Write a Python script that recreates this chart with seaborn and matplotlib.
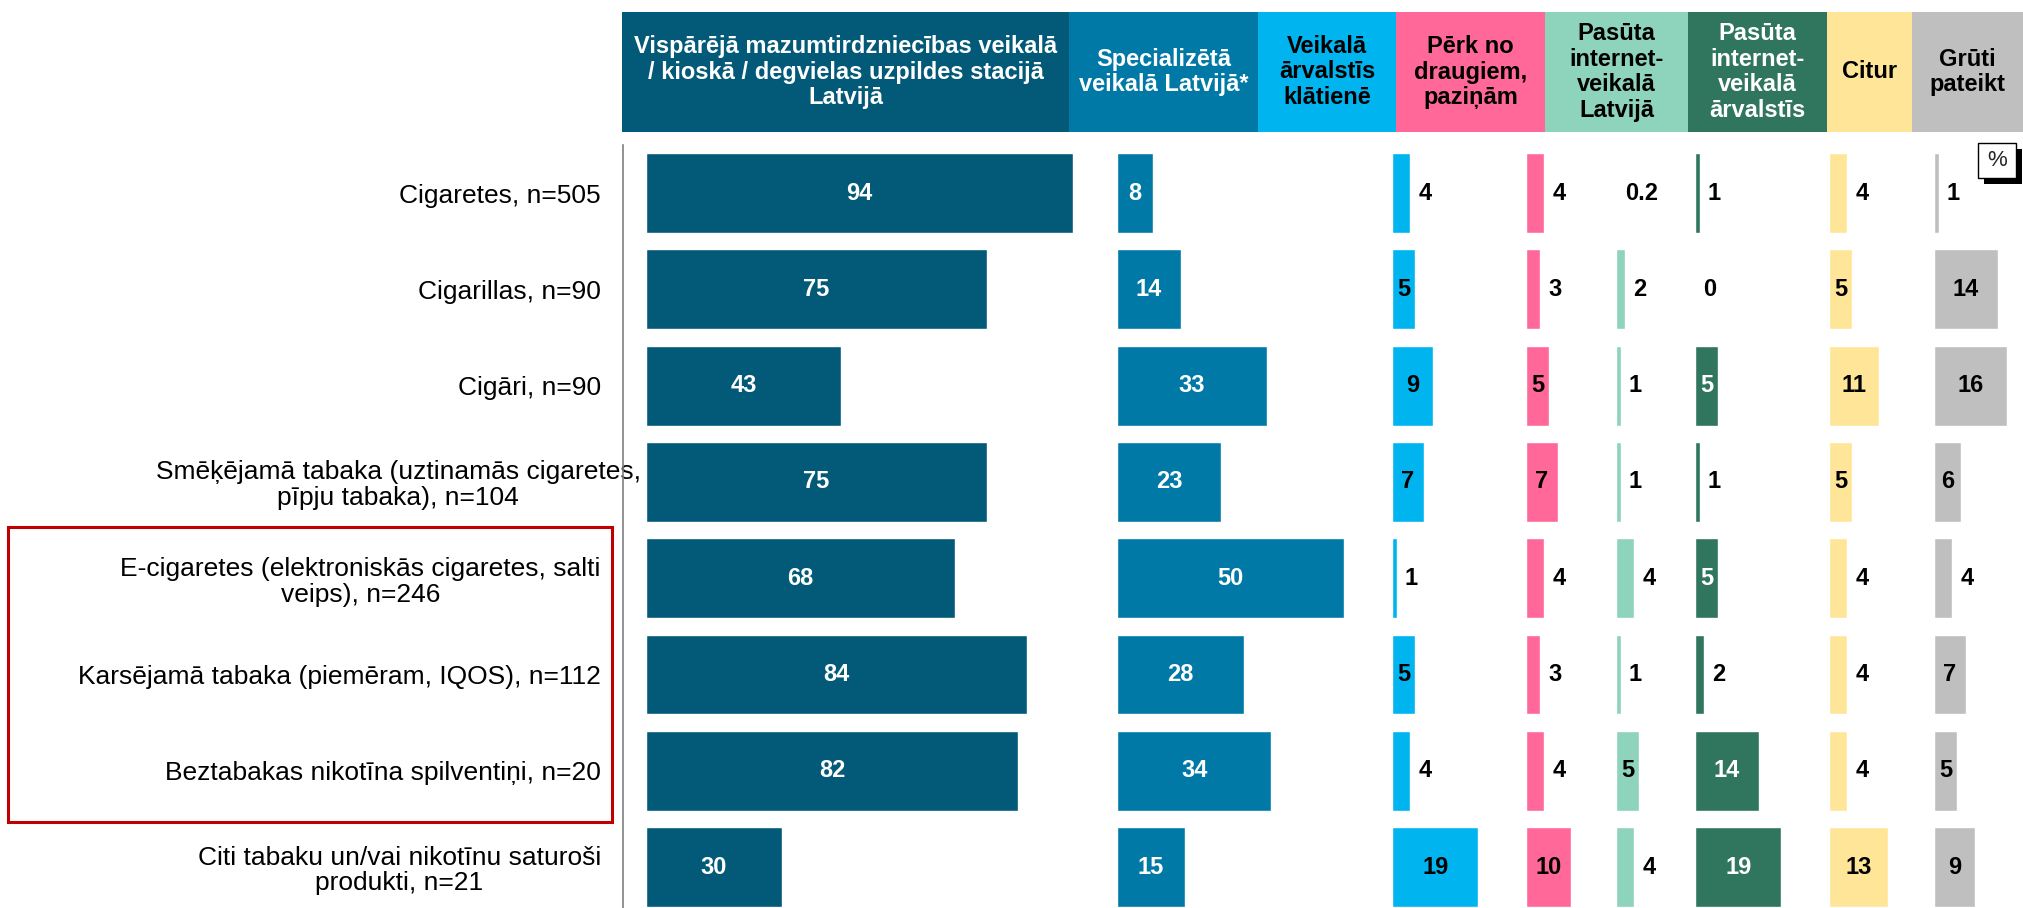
import matplotlib
matplotlib.use("Agg")
import matplotlib.pyplot as plt
from matplotlib.patches import Rectangle
from matplotlib.transforms import ScaledTranslation
import seaborn as sns

# Dati
categories = [
    "Cigaretes, n=505",
    "Cigarillas, n=90",
    "Cigāri, n=90",
    "Smēķējamā tabaka (uztinamās cigaretes,\npīpju tabaka), n=104",
    "E-cigaretes (elektroniskās cigaretes, salti\nveips), n=246",
    "Karsējamā tabaka (piemēram, IQOS), n=112",
    "Beztabakas nikotīna spilventiņi, n=20",
    "Citi tabaku un/vai nikotīnu saturoši\nprodukti, n=21",
]
headers = [
    "Vispārējā mazumtirdzniecības veikalā\n/ kioskā / degvielas uzpildes stacijā\nLatvijā",
    "Specializētā\nveikalā Latvijā*",
    "Veikalā\nārvalstīs\nklātienē",
    "Pērk no\ndraugiem,\npaziņām",
    "Pasūta\ninternet-\nveikalā\nLatvijā",
    "Pasūta\ninternet-\nveikalā\nārvalstīs",
    "Citur",
    "Grūti\npateikt",
]
general_store = [94, 75, 43, 75, 68, 84, 82, 30]
special_store = [8, 14, 33, 23, 50, 28, 34, 15]
store_abroad = [4, 5, 9, 7, 1, 5, 4, 19]
from_friends = [4, 3, 5, 7, 4, 3, 4, 10]
online_lv = [0.2, 2, 1, 1, 4, 1, 5, 4]
online_abroad = [1, 0, 5, 1, 5, 2, 14, 19]
elsewhere = [4, 5, 11, 5, 4, 4, 4, 13]
hard_to_say = [1, 14, 16, 6, 4, 7, 5, 9]

series = [general_store, special_store, store_abroad, from_friends,
          online_lv, online_abroad, elsewhere, hard_to_say]
colors = ["#035A78", "#0079A6", "#00B5EF", "#FF6899",
          "#8ED3BB", "#30765F", "#FFE597", "#BFBFBF"]
header_text_colors = ["white", "white", "black", "black",
                      "black", "white", "black", "black"]
inside_text_colors = ["white", "white", "black", "black",
                      "black", "white", "black", "black"]

# izkārtojums pikseļos
W, H = 2023, 908
PPU = 4.54                      # px uz 1 procentpunktu
bar_starts = [646, 1117, 1392, 1526, 1616, 1695, 1829, 1934]
header_edges = [622, 1069, 1258, 1396, 1545, 1688, 1827, 1912, 2023]
header_top, header_bot = 12, 132
ax_top = 145

sns.set_style("white")
plt.rcParams["font.family"] = ["Liberation Sans", "DejaVu Sans"]

fig = plt.figure(figsize=(W / 100, H / 100), dpi=100)

for i, (vals, col) in enumerate(zip(series, colors)):
    left = 623 if i == 0 else bar_starts[i]
    right = bar_starts[i + 1] if i + 1 < len(bar_starts) else W
    ax = fig.add_axes([left / W, 0, (right - left) / W, (H - ax_top) / H])
    sns.barplot(x=vals, y=categories, orient="h", color=col, saturation=1,
                width=0.83, ax=ax)
    ax.set_xlim((left - bar_starts[i]) / PPU, (right - bar_starts[i]) / PPU)
    ax.set_ylim(7.425, -0.5)
    ax.set_xlabel("")
    ax.set_ylabel("")
    ax.set_xticks([])
    for s in ["top", "right", "bottom"]:
        ax.spines[s].set_visible(False)
    ax.set_facecolor("none")

    # lielās vērtības joslā, mazās - aiz joslas
    threshold = 0 if i < 2 else 5
    inside = [f"{v:g}" if v >= threshold else "" for v in vals]
    outside = ["" if v >= threshold else f"{v:g}" for v in vals]
    cont = ax.containers[0]
    ax.bar_label(cont, labels=inside, label_type="center", color=inside_text_colors[i],
                 fontsize=17, fontweight="bold")
    ax.bar_label(cont, labels=outside, label_type="edge", padding=6, color="black",
                 fontsize=17, fontweight="bold")

    if i == 0:
        ax.spines["left"].set_color("#7F7F7F")
        ax.spines["left"].set_linewidth(1.2)
        ax.tick_params(axis="y", length=0, pad=16, labelsize=19, labelcolor="black")
        for j, lab in enumerate(ax.get_yticklabels()):
            lab.set_multialignment("center")
            lab.set_linespacing(1.1)
            if j == 3:
                lab.set_transform(lab.get_transform() + ScaledTranslation(0.40, 0, fig.dpi_scale_trans))
    else:
        ax.spines["left"].set_visible(False)
        ax.set_yticks([])

# galvenes
for i, txt in enumerate(headers):
    x0, x1 = header_edges[i], header_edges[i + 1]
    fig.add_artist(Rectangle((x0 / W, 1 - header_bot / H), (x1 - x0) / W,
                             (header_bot - header_top) / H, transform=fig.transFigure,
                             facecolor=colors[i], edgecolor="none"))
    fig.text((x0 + x1) / 2 / W, 1 - (header_top + header_bot) / 2 / H, txt,
             ha="center", va="center", fontsize=17, fontweight="bold",
             color=header_text_colors[i], linespacing=1.15)

# sarkanais rāmis
fig.add_artist(Rectangle((8 / W, 1 - 822 / H), (612 - 8) / W, (822 - 527) / H,
                         transform=fig.transFigure, facecolor="none",
                         edgecolor="#C00000", linewidth=2.2))

# % zīme ar ēnu
fig.add_artist(Rectangle((1984 / W, 1 - 184 / H), 38 / W, 35 / H,
                         transform=fig.transFigure, facecolor="black", edgecolor="none"))
fig.add_artist(Rectangle((1978 / W, 1 - 178 / H), 38 / W, 35 / H,
                         transform=fig.transFigure, facecolor="white",
                         edgecolor="black", linewidth=1))
fig.text(1997 / W, 1 - 161 / H, "%", ha="center", va="center", fontsize=16)

fig.savefig("out.png", dpi=100)
